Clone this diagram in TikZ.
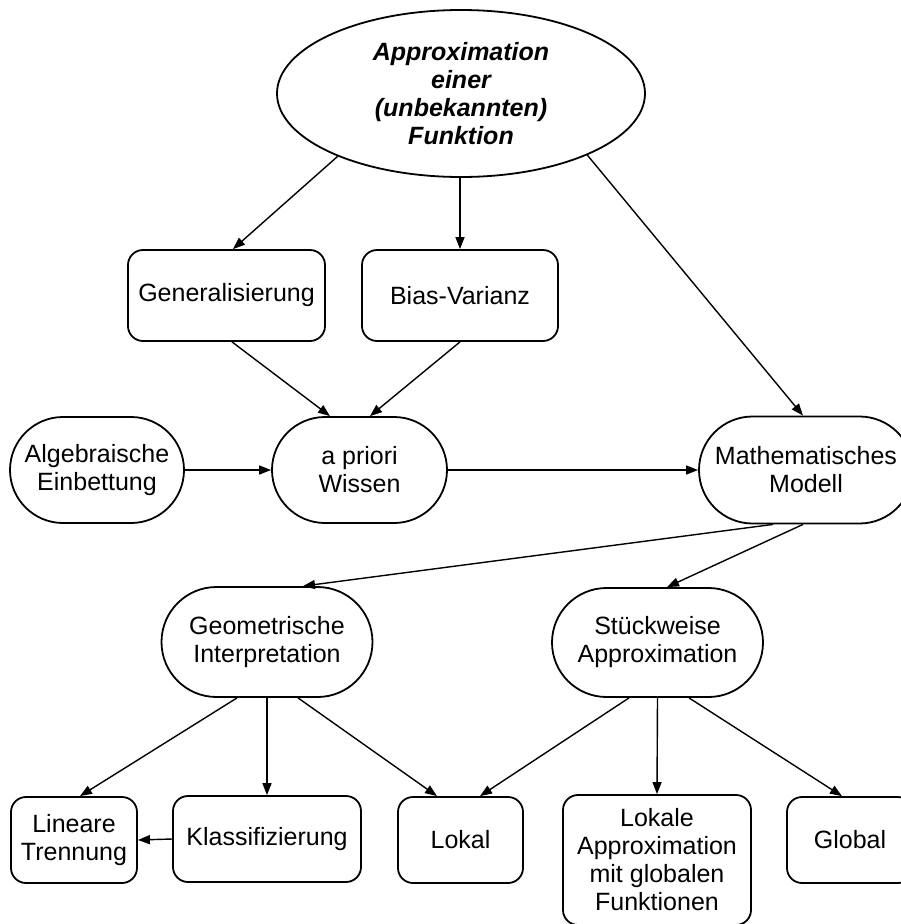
\documentclass[tikz,border=0pt]{standalone}
\usepackage{fontspec}
\setmainfont{Liberation Sans}
\usetikzlibrary{shapes.geometric,shapes.misc,arrows.meta}
\tikzset{
  every node/.style={font=\fontsize{25}{28}\selectfont, align=center, inner sep=0pt},
  topic/.style={draw, ellipse, line width=1.8pt, font=\fontsize{25}{28}\selectfont\bfseries\itshape},
  topicbox/.style={draw, rounded corners=15pt, line width=1.8pt},
  pill/.style={draw, rounded rectangle, line width=1.8pt},
  arrow/.style={-{Triangle[length=12pt,width=9pt]}, line width=1.4pt}
}

\begin{document}
\begin{tikzpicture}[x=1pt, y=-1pt]
  \clip (0,0) rectangle (901,924);
  % top level
  \node[topic, minimum width=368, minimum height=167] (top) at (461,93.5)
    {Approximation\\einer\\(unbekannten)\\Funktion};
  \node[topicbox, minimum width=197, minimum height=91] (gen) at (226.5,295.5) {Generalisierung};
  \node[topicbox, minimum width=196, minimum height=91] (bias) at (460,295.5) {Bias-Varianz};
  % middle row
  \node[pill, minimum width=174, minimum height=106] (alg) at (97,470) {Algebraische\\Einbettung};
  \node[pill, minimum width=175, minimum height=106] (wissen) at (359.5,470) {a priori\\Wissen};
  \node[pill, minimum width=214, minimum height=107] (modell) at (806,470) {Mathematisches\\Modell};
  \node[pill, minimum width=211, minimum height=110] (geom) at (267,642) {Geometrische\\Interpretation};
  \node[pill, minimum width=211, minimum height=109] (stueck) at (657.5,642.5) {Stückweise\\Approximation};
  % bottom row
  \node[topicbox, minimum width=126, minimum height=86] (lin) at (74,840) {Lineare\\Trennung};
  \node[topicbox, minimum width=188, minimum height=86] (klass) at (267,839) {Klassifizierung};
  \node[topicbox, minimum width=125, minimum height=86] (lokal) at (460.5,840) {Lokal};
  \node[topicbox, minimum width=188, minimum height=130] (lokapp) at (657,860)
    {Lokale\\Approximation\\mit globalen\\Funktionen};
  \node[topicbox, minimum width=126, minimum height=86] (global) at (850,840) {Global};

  \draw[arrow] (top.207) -- ([xshift=6.5pt]gen.north);
  \draw[arrow] (top.south -| bias.north) -- (bias.north);
  \draw[arrow] (top.334) -- ([xshift=-3pt]modell.north);
  \draw[arrow] ([xshift=5.5pt]gen.south) -- ([xshift=-29.5pt]wissen.north);
  \draw[arrow] (bias.south) -- ([xshift=10.5pt]wissen.north);
  \draw[arrow] (alg.east) -- (wissen.west);
  \draw[arrow] (wissen.east) -- (modell.west);
  \draw[arrow] ([xshift=-33pt]modell.south) -- ([xshift=36pt]geom.north);
  \draw[arrow] ([xshift=-3pt]modell.south) -- ([xshift=9.5pt]stueck.north);
  \draw[arrow] ([xshift=-30pt]geom.south) -- ([xshift=6pt]lin.north);
  \draw[arrow] (geom.south) -- (klass.north);
  \draw[arrow] ([xshift=31pt]geom.south) -- ([xshift=-23.5pt]lokal.north);
  \draw[arrow] ([xshift=-28.5pt]stueck.south) -- ([xshift=19.5pt]lokal.north);
  \draw[arrow] (stueck.south) -- (lokapp.north);
  \draw[arrow] ([xshift=31.5pt]stueck.south) -- ([xshift=-8pt]global.north);
  \draw[arrow] (klass.west) -- (lin.east);
\end{tikzpicture}
\end{document}
